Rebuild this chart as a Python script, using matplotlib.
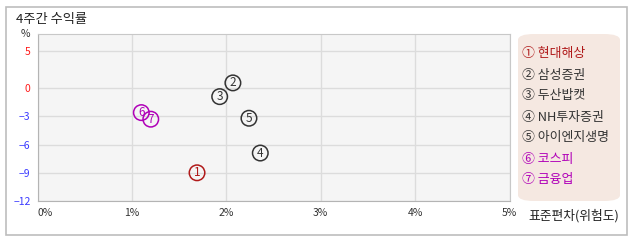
import matplotlib
matplotlib.use("Agg")
import matplotlib.pyplot as plt
import numpy as np
from matplotlib.patches import FancyBboxPatch, Rectangle

plt.rcParams['font.family'] = ['Noto Sans CJK KR', 'DejaVu Sans']

# data
names = ["현대해상", "삼성증권", "두산밥캣", "NH투자증권", "아이엔지생명", "코스피", "금융업"]
labels = ["1", "2", "3", "4", "5", "6", "7"]
risk = [1.69, 2.07, 1.93, 2.36, 2.24, 1.10, 1.20]        # 표준편차 (%)
ret4w = [-9.0, 0.7, -0.9, -6.9, -3.2, -2.6, -3.3]        # 4주 수익률 (%)
colors = ["#b01a1a", "#333333", "#333333", "#333333", "#333333", "#b000b8", "#b000b8"]
xticks = [0, 1, 2, 3, 4, 5]
yticks = [5, 0, -3, -6, -9, -12]

# y axis is compressed above zero
k = 0.8
def fwd(y):
    y = np.asarray(y, dtype=float)
    return np.where(y > 0, y * k, y)

def inv(y):
    y = np.asarray(y, dtype=float)
    return np.where(y > 0, y / k, y)

fig = plt.figure(figsize=(6.38, 2.42), dpi=100)
fig.patch.set_facecolor("white")

# outer frame
fig.patches.append(Rectangle((6/638, 1 - 235/242), 621/638, 228/242, transform=fig.transFigure,
                             fill=False, edgecolor="#bdbdbd", linewidth=1.2))
fig.text(16/638, 1 - 20/242, "4주간 수익률", fontsize=9.5, color="#222222", va="center")

ax = fig.add_axes([37.5/638, 1 - 201/242, 472/638, 167/242])
ax.set_facecolor("#f5f5f5")
ax.set_yscale("function", functions=(fwd, inv))
ax.set_xlim(0, 5)
ax.set_ylim(-12, 7.2)
ax.set_xticks(xticks)
ax.set_yticks(yticks)
ax.grid(True, color="#dcdcdc", linewidth=1)
ax.set_axisbelow(True)
for s in ax.spines.values():
    s.set_color("#c8c8c8")
ax.spines["left"].set_color("#b4b4b4")
ax.spines["bottom"].set_color("#b4b4b4")
ax.tick_params(length=0, labelsize=7.5, pad=5)
ax.set_xticklabels([f"{t}%" for t in xticks], color="#333333")
ax.get_xticklabels()[0].set_horizontalalignment("left")
ax.set_yticklabels([str(t).replace("-", "−") for t in yticks])
for lab, t in zip(ax.get_yticklabels(), yticks):
    lab.set_color("#ff1a1a" if t >= 0 else "#3a3aff")
fig.text(25/638, 1 - 34/242, "%", fontsize=7.5, color="#333333", ha="center", va="center")
fig.text(528/638, 1 - 216/242, "표준편차(위험도)", fontsize=9.2, color="#222222", va="center")

ax.scatter(risk, ret4w, s=125, facecolors="none", edgecolors=colors, linewidths=1.1, zorder=3)
for x, y, l, c in zip(risk, ret4w, labels, colors):
    ax.text(x, y, l, fontsize=8.5, color=c, ha="center", va="center", zorder=4)

# legend box
fig.patches.append(FancyBboxPatch((518/638, 1 - 201/242), 102/638, 167/242,
                                  boxstyle="round,pad=0,rounding_size=0.025",
                                  transform=fig.transFigure, facecolor="#f5e8e1", edgecolor="none"))
circ = ["①", "②", "③", "④", "⑤", "⑥", "⑦"]
for i, (n, c) in enumerate(zip(names, colors)):
    fig.text(522/638, 1 - (54 + i * 21) / 242, f"{circ[i]} {n}", fontsize=9.3, color=c, va="center")

fig.savefig("out.png", dpi=100)
